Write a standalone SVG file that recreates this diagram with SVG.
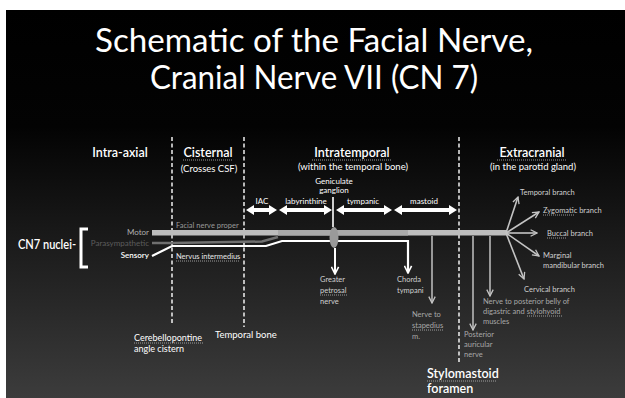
<svg xmlns="http://www.w3.org/2000/svg" width="625" height="398" viewBox="0 0 625 398">
<defs>
<linearGradient id="bg" x1="0" y1="10" x2="0" y2="398" gradientUnits="userSpaceOnUse">
<stop offset="0" stop-color="#000"/>
<stop offset="0.3" stop-color="#030303"/>
<stop offset="0.65" stop-color="#1f1f1f"/>
<stop offset="1" stop-color="#3c3c3c"/>
</linearGradient>
<marker id="ag" viewBox="0 0 10 10" refX="9" refY="5" markerWidth="8" markerHeight="8" orient="auto" markerUnits="userSpaceOnUse">
<path d="M1,1 L9,5 L1,9" fill="none" stroke="#c4c4c4" stroke-width="1.6"/>
</marker>
<marker id="aw2" viewBox="0 0 10 10" refX="9" refY="5" markerWidth="9" markerHeight="9" orient="auto" markerUnits="userSpaceOnUse">
<path d="M1,1 L9,5 L1,9" fill="none" stroke="#fff" stroke-width="1.8"/>
</marker>
</defs>
<style>
text{font-family:Lato,"Open Sans","Liberation Sans",sans-serif;fill:#fff}
.title{font-size:33px}
.hd{font-size:12.5px;font-weight:600}
.sub{font-size:9.5px}
.sm{font-size:8px}
.xs{font-size:7.5px;fill:#d0d0d0}
.dim{fill:#a8a8a8}
.dash{stroke:#fff;stroke-width:1.4;stroke-dasharray:4 2.5;fill:none}
.ul{stroke:#bbb;stroke-width:0.8;stroke-dasharray:1 1;fill:none}
.dbl{fill:#fff}
.fan{stroke:#c4c4c4;stroke-width:1.6;fill:none}
.br{stroke:#b8b8b8;stroke-width:1.6;fill:none}
</style>
<rect x="0" y="0" width="625" height="398" fill="#fff"/>
<rect x="6" y="10" width="619" height="388" fill="url(#bg)"/>

<g id="title">
<text class="title" x="314" y="52" text-anchor="middle" textLength="438" lengthAdjust="spacingAndGlyphs">Schematic of the Facial Nerve,</text>
<text class="title" x="314" y="89" text-anchor="middle" textLength="328" lengthAdjust="spacingAndGlyphs">Cranial Nerve VII (CN 7)</text>
</g>

<g id="dividers">
<line class="dash" x1="172" y1="137" x2="172" y2="325"/>
<line class="dash" x1="244" y1="137" x2="244" y2="327"/>
<line class="dash" x1="459" y1="137" x2="459" y2="364"/>
</g>

<g id="headers">
<text class="hd" x="120" y="157" text-anchor="middle">Intra-axial</text>
<text class="hd" x="208" y="157" text-anchor="middle">Cisternal</text>
<text class="sub" x="209" y="172" text-anchor="middle">(Crosses CSF)</text>
<text class="hd" x="352" y="157" text-anchor="middle">Intratemporal</text>
<text class="sub" x="353" y="170" text-anchor="middle">(within the temporal bone)</text>
<text class="hd" x="532" y="157" text-anchor="middle">Extracranial</text>
<text class="sub" x="533" y="170" text-anchor="middle">(in the parotid gland)</text>
<line class="ul" x1="183" y1="160" x2="233" y2="160"/>
<line class="ul" x1="312" y1="160" x2="392" y2="160"/>
<line class="ul" x1="497" y1="160" x2="567" y2="160"/>
</g>

<g id="segments">
<path class="dbl" d="M246,210 L254,205 L254,208 L269,208 L269,205 L277,210 L269,215 L269,212 L254,212 L254,215 Z"/>
<path class="dbl" d="M279,210 L287,205 L287,208 L324,208 L324,205 L332,210 L324,215 L324,212 L287,212 L287,215 Z"/>
<path class="dbl" d="M336,210 L344,205 L344,208 L384,208 L384,205 L392,210 L384,215 L384,212 L344,212 L344,215 Z"/>
<path class="dbl" d="M394,210 L402,205 L402,208 L449,208 L449,205 L457,210 L449,215 L449,212 L402,212 L402,215 Z"/>
<text class="sm" x="262" y="204" text-anchor="middle">IAC</text>
<text class="sm" x="306" y="204" text-anchor="middle">labyrinthine</text>
<text class="sm" x="363" y="204" text-anchor="middle">tympanic</text>
<text class="sm" x="424" y="204" text-anchor="middle">mastoid</text>
<text class="sm" x="334" y="184" text-anchor="middle">Geniculate</text>
<text class="sm" x="334" y="193" text-anchor="middle">ganglion</text>
</g>

<g id="nuclei">
<text x="18" y="249" textLength="58" lengthAdjust="spacingAndGlyphs" style="font-size:12.5px;font-weight:600">CN7 nuclei-</text>
<path d="M88,229 L81,229 L81,267 L88,267" fill="none" stroke="#fff" stroke-width="3"/>
<text class="sm" x="149" y="235" text-anchor="end" style="fill:#b0b0b0">Motor</text>
<text class="sm" x="149" y="246" text-anchor="end" style="fill:#5c5c5c">Parasympathetic</text>
<text class="sm" x="149" y="258" text-anchor="end" style="font-weight:600">Sensory</text>
</g>

<g id="connectors">
<rect x="152" y="230" width="355" height="5.5" fill="#bdbdbd"/>
<rect x="278" y="230" width="130" height="5.5" fill="#a9a9a9"/>
<path d="M152,243 L172,243 L262,241.5 L278,237" fill="none" stroke="#707070" stroke-width="2.5"/>
<path d="M152,256 L172,246 L266,246 L282,241 L408,241 L408,273" fill="none" stroke="#fff" stroke-width="2.2" marker-end="url(#aw2)"/>
<line x1="333" y1="197" x2="333" y2="227" stroke="#fff" stroke-width="1.6"/>
<ellipse cx="334" cy="237.5" rx="4.5" ry="10.5" fill="#9a9a9a"/>
<line x1="335" y1="248" x2="335" y2="274" stroke="#fff" stroke-width="2" marker-end="url(#aw2)"/>
<line class="br" x1="432" y1="236" x2="432" y2="303" marker-end="url(#ag)"/>
<line class="br" x1="473" y1="236" x2="473" y2="330" marker-end="url(#ag)"/>
<line class="br" x1="490" y1="236" x2="490" y2="296" marker-end="url(#ag)"/>
<line class="fan" x1="506" y1="233" x2="518" y2="197" marker-end="url(#ag)"/>
<line class="fan" x1="506" y1="233" x2="539" y2="212" marker-end="url(#ag)"/>
<line class="fan" x1="506" y1="233" x2="537" y2="233" marker-end="url(#ag)"/>
<line class="fan" x1="506" y1="233" x2="539" y2="256" marker-end="url(#ag)"/>
<line class="fan" x1="506" y1="233" x2="524" y2="279" marker-end="url(#ag)"/>
</g>

<g id="labels">
<text class="xs" x="176" y="228" style="fill:#9a9a9a">Facial nerve proper</text>
<text class="xs" x="176" y="259" style="fill:#e8e8e8">Nervus intermedius</text>
<line class="ul" x1="176" y1="261" x2="240" y2="261"/>
<text class="xs" x="320" y="282">Greater</text>
<text class="xs" x="320" y="293">petrosal</text>
<text class="xs" x="320" y="304">nerve</text>
<line class="ul" x1="320" y1="295" x2="347" y2="295"/>
<text class="xs" x="397" y="282">Chorda</text>
<text class="xs" x="397" y="293">tympani</text>
<text class="xs dim" x="412" y="317">Nerve to</text>
<text class="xs dim" x="412" y="328">stapedius</text>
<text class="xs dim" x="412" y="339">m.</text>
<line class="ul" x1="412" y1="330" x2="443" y2="330"/>
<text class="xs dim" x="464" y="337">Posterior</text>
<text class="xs dim" x="464" y="347">auricular</text>
<text class="xs dim" x="464" y="357">nerve</text>
<text class="xs dim" x="483" y="304">Nerve to posterior belly of</text>
<text class="xs dim" x="483" y="314">digastric and stylohyoid</text>
<text class="xs dim" x="483" y="324">muscles</text>
<line class="ul" x1="527" y1="316" x2="563" y2="316"/>
<text class="xs" x="520" y="195">Temporal branch</text>
<text class="xs" x="543" y="213">Zygomatic branch</text>
<line class="ul" x1="543" y1="215" x2="575" y2="215"/>
<text class="xs" x="547" y="236">Buccal branch</text>
<line class="ul" x1="547" y1="238" x2="566" y2="238"/>
<text class="xs" x="543" y="258">Marginal</text>
<text class="xs" x="543" y="268">mandibular branch</text>
<text class="xs" x="524" y="292">Cervical branch</text>
<text x="134" y="341" style="font-size:9px">Cerebellopontine</text>
<text x="134" y="352" style="font-size:9px">angle cistern</text>
<line class="ul" x1="134" y1="343" x2="203" y2="343"/>
<text x="215" y="338" style="font-size:9.5px">Temporal bone</text>
<text x="427" y="378" style="font-size:12.5px;font-weight:600">Stylomastoid</text>
<text x="427" y="393" style="font-size:12.5px;font-weight:600">foramen</text>
<line class="ul" x1="427" y1="381" x2="496" y2="381"/>
</g>
</svg>
